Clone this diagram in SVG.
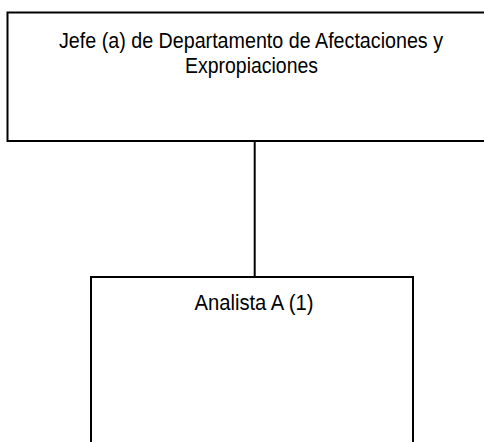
<svg xmlns="http://www.w3.org/2000/svg" width="484" height="442" viewBox="0 0 484 442">
<style>
.box{fill:#ffffff;stroke:#000000;stroke-width:2}
.lbl{font-family:"Liberation Sans",Arial,sans-serif;font-size:22px;fill:#000000;text-anchor:middle}
.conn{stroke:#000000;stroke-width:2;fill:none}
</style>
<rect width="484" height="442" fill="#ffffff"/>
<g id="connectors">
<line class="conn" x1="254.7" y1="141" x2="254.7" y2="277"/>
</g>
<g id="node-jefe">
<rect class="box" x="7.5" y="12.5" width="488" height="128.5"/>
<text class="lbl" x="251" y="48" textLength="384" lengthAdjust="spacingAndGlyphs">Jefe (a) de Departamento de Afectaciones y</text>
<text class="lbl" x="251.5" y="73" textLength="133" lengthAdjust="spacingAndGlyphs">Expropiaciones</text>
</g>
<g id="node-analista">
<rect class="box" x="91" y="277" width="322" height="180"/>
<text class="lbl" x="254" y="310" textLength="119" lengthAdjust="spacingAndGlyphs">Analista A (1)</text>
</g>
</svg>
